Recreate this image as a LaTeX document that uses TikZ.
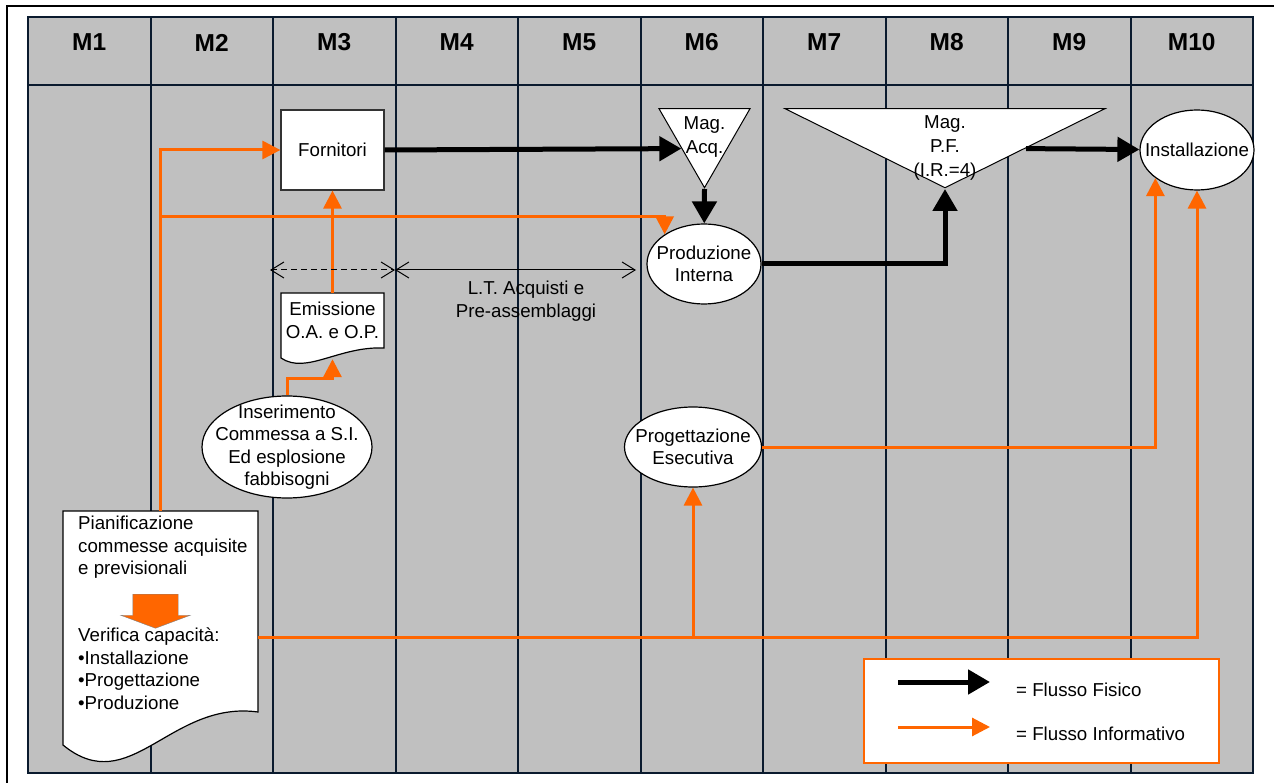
\documentclass[tikz,border=0pt]{standalone}
\usepackage{fontspec}
\setmainfont{Liberation Sans}
\usetikzlibrary{calc, positioning, shapes.geometric, shapes.arrows, arrows.meta}
\definecolor{lane}{HTML}{C0C0C0}
\definecolor{laneline}{HTML}{0A1A2E}
\definecolor{info}{HTML}{FF6600}

\begin{document}
\begin{tikzpicture}[x=1pt, y=-1pt,
      every node/.style = {font=\fontsize{18.7}{22.5}\selectfont, inner sep=0pt},
      Box/.style = {draw=black!80, line width=1.2pt, fill=white},
      Ell/.style = {ellipse, draw, line width=1.2pt, fill=white, align=center,
                    inner sep=-14pt},
      Mag/.style = {isosceles triangle, isosceles triangle stretches,
                    shape border rotate=270, draw, line width=1pt, fill=white},
      Fis/.style = {line width=5pt, -{Triangle[length=22pt, width=24pt]}},
      Inf/.style = {info, line width=3pt, -{Triangle[length=18pt, width=18pt]}},
      Span/.style = {line width=1pt,
                     {Straight Barb[length=13pt, width=16pt]}-{Straight Barb[length=13pt, width=16pt]}} ]
\useasboundingbox (0,0) rectangle (1274,783);

% lanes
\fill[lane] (28,17) rectangle (1253,773);
\foreach \i in {1,...,10} {
   \node[font=\fontsize{24.5}{26}\selectfont\bfseries] (m\i) at ({28+122.5*(\i-0.5)},42.5) {M\i};
   \draw[laneline, line width=2pt] ({28+122.5*\i},17) -- ({28+122.5*\i},773);
}
\draw[laneline, line width=2pt] (28,17) rectangle (1253,773) (28,85) -- (1253,85);
\draw[line width=1.5pt] (7,783) -- (7,6) -- (1274,6);

% documents
\draw[Box, draw=black] (281,293) -- (384,293) -- (384,348)
      .. controls (339,346) and (306,375) .. (281,358) -- cycle;
\draw[Box, draw=black] (63,511) -- (258,511) -- (258,712)
      .. controls (170,700) and (130,800) .. (63,745) -- cycle;

\node[Box, minimum width=103pt, minimum height=80pt] (forn) at (332.5,150) {Fornitori};
\node[Mag, minimum width=91pt, minimum height=79pt, anchor=apex] (acq) at (704.5,189) {};
\node[align=center, font=\fontsize{18.7}{24}\selectfont] (acqtxt) at (704.5,137) {Mag.\\Acq.};
\node[Mag, minimum width=320pt, minimum height=79pt, anchor=apex] (pf) at (945,189) {};
\node[align=center, font=\fontsize{18.7}{24}\selectfont] (pftxt) at (945,148) {Mag.\\P.F.\\(I.R.=4)};
\node[Ell, minimum width=114pt, minimum height=80pt] (inst) at (1197,150) {Installazione};
\node[Ell, minimum width=114pt, minimum height=80pt] (prod) at (704,264) {Produzione\\Interna};
\node[align=center, minimum width=103pt, minimum height=55pt] (emis) at (332.5,320.5) {Emissione\\O.A. e O.P.};
\node[Ell, minimum width=170pt, minimum height=102pt] (ins) at (287,447)
     {Inserimento\\Commessa a S.I.\\Ed esplosione\\fabbisogni};
\node[Ell, minimum width=137pt, minimum height=80pt] (prog) at (693,447) {Progettazione\\Esecutiva};
\node[align=center] (ltlab) at (526,301) {L.T. Acquisti e\\Pre-assemblaggi};

\node[minimum width=195pt, minimum height=201pt] (pian) at (160.5,611.5) {};
\node[align=left, anchor=north west] (pian1) at (78,516)
     {Pianificazione\\commesse acquisite\\e previsionali};
\node[single arrow, draw=gray, fill=info, rotate=-90, inner xsep=0pt, inner ysep=22.5pt,
      minimum height=34pt, single arrow head extend=12pt, single arrow tip angle=139] (down) at (155.5,607) {};
\node[align=left, anchor=north west] (pian2) at (78,628)
     {Verifica capacità:\\•Installazione\\•Progettazione\\•Produzione};

% flusso fisico
\draw[Fis] (forn.east) -- (acq.right side);
\draw[Fis] (acq.apex) -- (prod);
\draw[Fis] (prod) -| (pf.apex);
\draw[Fis] (pf.left side) -- (inst);

% flusso informativo
\coordinate (fork) at (160.5,217);
\coordinate (tap) at ([yshift=-25.5pt]pian.east);
\draw[Inf] (pian.north) |- (forn.west);
\draw[Inf] (fork) -| (prod.143);
\draw[Inf] (emis.north) -- (forn.south);
\draw[Inf] (ins.north) -- ++(0,-17) -| ([yshift=-11pt]emis.south);
\draw[Inf] (prog) -| (inst.214);
\draw[Inf] (tap) -| (inst.south);
\draw[Inf] (tap -| prog.south) -- (prog.south);

% lead time
\coordinate (lt0) at (270,270);
\coordinate (lt1) at (395,270);
\coordinate (lt2) at (636,270);
\draw[Span, dash pattern=on 6pt off 4pt] (lt0) -- (lt1);
\draw[Span] (lt1) -- (lt2);

% legenda
\node[draw=info, line width=1.5pt, fill=white, minimum width=355pt, minimum height=104pt] (legend) at (1041.5,711) {};
\node[anchor=west] (fisico) at (1016,689.5) {= Flusso Fisico};
\node[anchor=west] (informativo) at (1016,734) {= Flusso Informativo};
\coordinate (fis0) at (898,682);
\coordinate (fis1) at (990,682);
\coordinate (inf0) at (898,727);
\coordinate (inf1) at (990,727);
\draw[Fis] (fis0) -- (fis1);
\draw[Inf] (inf0) -- (inf1);
\end{tikzpicture}
\end{document}
